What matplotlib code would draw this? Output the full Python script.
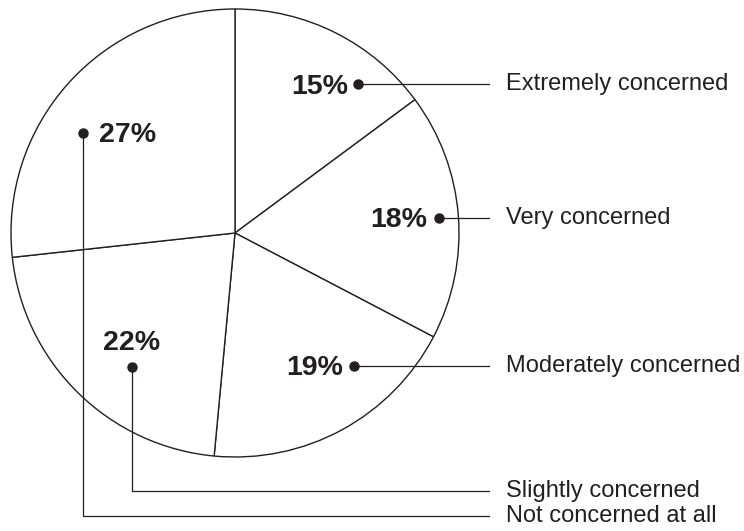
import matplotlib
matplotlib.use('Agg')
import matplotlib.pyplot as plt

# 数据
categories = ['Extremely concerned', 'Very concerned', 'Moderately concerned',
              'Slightly concerned', 'Not concerned at all']
shares = [15, 18, 19, 22, 27]
pct_labels = ['15%', '18%', '19%', '22%', '27%']

# 版式（像素坐标，原点在左上）
W, H = 744, 531
CENTER = (235, 233)
RADIUS = 224
LINE_END = 489
TEXT_X = 506
# 每个标注的圆点位置、折线拐点高度、百分比文字位置与对齐
dots = [(358, 84), (439, 218), (354, 366), (132, 367), (83, 133)]
rows = [84, 218, 366, 491, 516]
pct_pos = [(348, 87, 'right'), (427, 220, 'right'), (343, 368, 'right'),
           (132, 343, 'center'), (99, 135, 'left')]

INK = '#231f20'
plt.rcParams['font.family'] = ['Liberation Sans', 'DejaVu Sans']


def fy(y):
    # 像素y转为数据y
    return H - y


fig = plt.figure(figsize=(W / 100, H / 100), dpi=100)
ax = fig.add_axes([0, 0, 1, 1])

# 饼图
ax.pie(shares, center=(CENTER[0], fy(CENTER[1])), radius=RADIUS,
       startangle=90, counterclock=False, colors=['white'] * len(shares),
       wedgeprops={'edgecolor': INK, 'linewidth': 1.0}, frame=True)
ax.set_xlim(0, W)
ax.set_ylim(0, H)
ax.set_aspect('equal')
ax.axis('off')

# 标注
for (dx, dy), row, (px, py, ha), pct, cat in zip(dots, rows, pct_pos,
                                                 pct_labels, categories):
    if row == dy:
        xs, ys = [dx, LINE_END], [dy, dy]
    else:
        xs, ys = [dx, dx, LINE_END], [dy, row, row]
    ax.plot(xs, [fy(v) for v in ys], color=INK, lw=0.9,
            solid_joinstyle='miter', zorder=3)
    ax.plot(dx, fy(dy), 'o', color=INK, ms=6.5, zorder=4)
    ax.text(px, fy(py), pct, ha=ha, va='center', fontsize=20.5,
            fontweight='bold', color=INK, zorder=5)
    ax.text(TEXT_X, fy(row), cat, ha='left', va='center', fontsize=17,
            color=INK)

fig.savefig('out.png', dpi=100)
